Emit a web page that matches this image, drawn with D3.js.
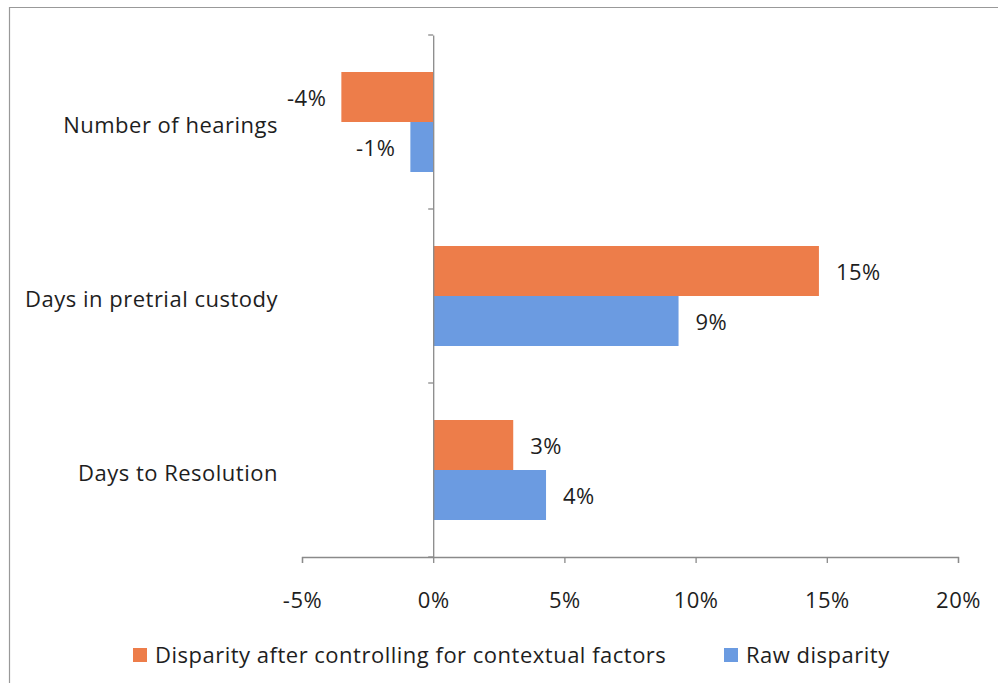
<!DOCTYPE html>
<html><head><meta charset="utf-8">
<script src="https://cdn.jsdelivr.net/npm/d3@7"></script>
<style>body{margin:0;background:#fff}svg{display:block}text{font-family:"Open Sans",Lato,sans-serif;fill:#1e1e1e}</style>
</head><body><svg id="c" width="998" height="683"></svg>
<script>
const categories = ["Number of hearings", "Days in pretrial custody", "Days to Resolution"];
const seriesNames = ["Disparity after controlling for contextual factors", "Raw disparity"];
const adjusted = [-3.5, 14.7, 3.05];
const raw = [-0.87, 9.35, 4.3];
const adjustedLabels = ["-4%", "15%", "3%"];
const rawLabels = ["-1%", "9%", "4%"];
const xTicks = [-5, 0, 5, 10, 15, 20];
const colors = ["#ED7D4A", "#6B9BE1"];

const svg = d3.select("#c");
const fs = 22;
const ls = "0.5px";
// chart frame (top and left edges visible)
svg.append("path").attr("d","M9.5,683 V7.5 H998").attr("fill","none").attr("stroke","#999").attr("stroke-width",1.2);

const x = d3.scaleLinear().domain([-5,20]).range([302,958]);
const y = d3.scaleBand().domain(categories).range([35,557]);
const inner = d3.scaleBand().domain([0,1]).range([0,y.bandwidth()]).paddingOuter(0.74).paddingInner(0);

const axisColor = "#8a8a8a";
// x axis
const xa = svg.append("g").attr("transform","translate(0,557)")
  .call(d3.axisBottom(x).tickValues(xTicks).tickSize(6).tickFormat(d=>d+"%"));
xa.select(".domain").attr("stroke",axisColor).attr("stroke-width",1.3);
xa.selectAll(".tick line").attr("stroke",axisColor).attr("stroke-width",1.3);
xa.selectAll(".tick text").attr("font-size",fs).attr("dy",0).attr("y",51).attr("fill","#1e1e1e")
  .style("font-family","'Open Sans',Lato,sans-serif").style("letter-spacing",ls);

const data = categories.map((c,i)=>({c, vals:[{s:0,v:adjusted[i],l:adjustedLabels[i]},{s:1,v:raw[i],l:rawLabels[i]}]}));

const g = svg.append("g");
const grp = g.selectAll("g.cat").data(data).join("g").attr("transform",d=>`translate(0,${y(d.c)})`);
grp.selectAll("rect").data(d=>d.vals).join("rect")
  .attr("x",d=>x(Math.min(0,d.v))).attr("width",d=>Math.abs(x(d.v)-x(0)))
  .attr("y",d=>inner(d.s)).attr("height",inner.bandwidth())
  .attr("fill",d=>colors[d.s]);
grp.selectAll("text.lbl").data(d=>d.vals).join("text").attr("class","lbl")
  .attr("x",d=>d.v<0 ? x(d.v)-15 : x(d.v)+17)
  .attr("y",d=>inner(d.s)+inner.bandwidth()/2+1)
  .attr("dy","0.35em").attr("font-size",fs).style("letter-spacing",ls)
  .attr("text-anchor",d=>d.v<0?"end":"start").text(d=>d.l);

// y axis at zero
const ya = svg.append("g").attr("transform",`translate(${x(0)},0)`)
  .call(d3.axisLeft(y).tickSize(0).tickFormat(""));
ya.select(".domain").attr("stroke",axisColor).attr("stroke-width",1.3);
const bounds = [35, ...categories.map(c=>y(c)+y.bandwidth())];
svg.append("g").selectAll("line").data(bounds).join("line")
  .attr("x1",x(0)-5).attr("x2",x(0)).attr("y1",d=>d).attr("y2",d=>d)
  .attr("stroke",axisColor).attr("stroke-width",1.3);

// category labels
svg.append("g").selectAll("text").data(categories).join("text")
  .attr("x",278).attr("y",d=>y(d)+y.bandwidth()/2+3).attr("dy","0.35em")
  .attr("text-anchor","end").attr("font-size",fs).style("letter-spacing",ls).text(d=>d);

// legend
const legX = [133, 724];
const leg = svg.append("g").selectAll("g").data(seriesNames).join("g")
  .attr("transform",(d,i)=>`translate(${legX[i]},655)`);
leg.append("rect").attr("x",0).attr("y",-7).attr("width",14).attr("height",14).attr("fill",(d,i)=>colors[i]);
leg.append("text").attr("x",22).attr("y",0).attr("dy","0.35em").attr("font-size",fs).style("letter-spacing",ls).text(d=>d);
</script></body></html>
